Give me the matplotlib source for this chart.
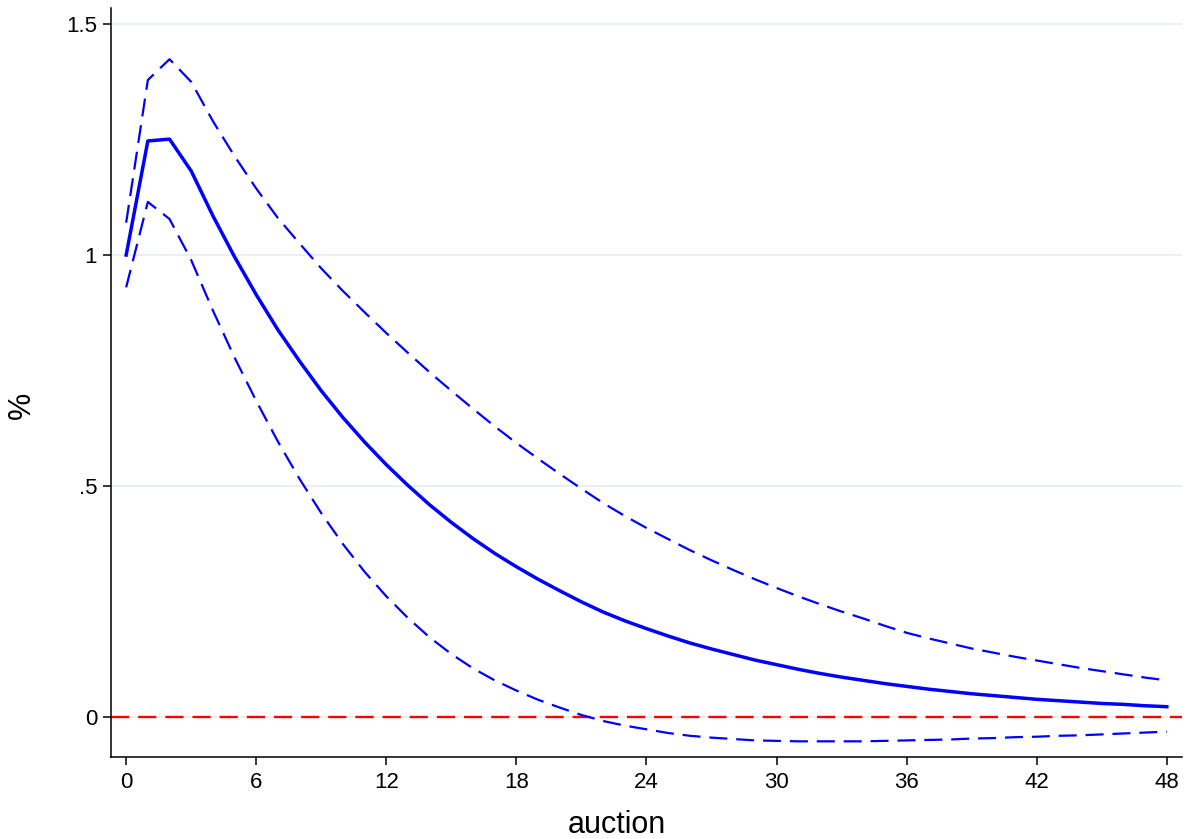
import numpy as np
import matplotlib
matplotlib.use("Agg")
import matplotlib.pyplot as plt

# impulse response (%)
steps = list(range(49))
irf = [1.000, 1.247, 1.251, 1.182, 1.085, 0.996, 0.914, 0.838, 0.770, 0.706,
       0.648, 0.595, 0.546, 0.501, 0.459, 0.421, 0.386, 0.354, 0.325, 0.298,
       0.273, 0.249, 0.227, 0.208, 0.191, 0.175, 0.160, 0.147, 0.135, 0.123,
       0.113, 0.103, 0.094, 0.086, 0.079, 0.072, 0.066, 0.060, 0.055, 0.050,
       0.046, 0.042, 0.038, 0.035, 0.032, 0.029, 0.027, 0.024, 0.022]
upper = [1.070, 1.379, 1.424, 1.375, 1.290, 1.214, 1.144, 1.080, 1.025, 0.971,
         0.922, 0.876, 0.831, 0.788, 0.746, 0.706, 0.667, 0.629, 0.593, 0.559,
         0.526, 0.494, 0.463, 0.435, 0.409, 0.385, 0.361, 0.339, 0.318, 0.298,
         0.279, 0.261, 0.244, 0.228, 0.213, 0.197, 0.182, 0.170, 0.159, 0.148,
         0.139, 0.130, 0.122, 0.114, 0.106, 0.099, 0.092, 0.085, 0.079]
lower = [0.930, 1.115, 1.078, 0.989, 0.880, 0.778, 0.684, 0.596, 0.515, 0.441,
         0.374, 0.314, 0.261, 0.214, 0.172, 0.136, 0.105, 0.079, 0.057, 0.037,
         0.020, 0.004, -0.009, -0.019, -0.027, -0.035, -0.041, -0.045, -0.048, -0.051,
         -0.052, -0.053, -0.053, -0.053, -0.053, -0.052, -0.051, -0.050, -0.049, -0.047,
         -0.046, -0.044, -0.043, -0.041, -0.040, -0.038, -0.036, -0.034, -0.032]

xticks = [0, 6, 12, 18, 24, 30, 36, 42, 48]
yticks = [0, 0.5, 1, 1.5]
ylabels = ["0", ".5", "1", "1.5"]

plt.rcParams['font.family'] = ['Liberation Sans', 'DejaVu Sans']

fig = plt.figure(figsize=(11.87, 8.39), dpi=100)
ax = fig.add_axes([0.0935, 0.0977, 0.9023, 0.8928])

for y in yticks:
    ax.axhline(y, color="#e8f0f2", lw=1.4, zorder=0)

ax.axhline(0, color="#ff0000", lw=1.7, dashes=(7.7, 3.8), zorder=1)
ax.plot(steps, upper, color="#0000ff", lw=1.6, dashes=(8.1, 4.0), zorder=2)
ax.plot(steps, lower, color="#0000ff", lw=1.6, dashes=(8.1, 4.0), zorder=2)
ax.plot(steps, irf, color="#0000ff", lw=2.5, zorder=3)

ax.set_xlim(-0.7, 48.7)
ax.set_ylim(-0.087, 1.535)
ax.set_xticks(xticks)
ax.set_yticks(yticks)
ax.set_yticklabels(ylabels)
ax.tick_params(axis='both', labelsize=16, length=6, width=1.1, direction='out')
ax.tick_params(axis='x', pad=5)
ax.tick_params(axis='y', pad=4)

ax.spines['top'].set_visible(False)
ax.spines['right'].set_visible(False)
ax.spines['left'].set_linewidth(1.1)
ax.spines['bottom'].set_linewidth(1.1)

ax.set_xlabel("auction", fontsize=22, va='baseline')
ax.xaxis.set_label_coords(0.4725, -0.1015)
ax.set_ylabel("%", fontsize=22, va='center')
ax.yaxis.set_label_coords(-0.083, 0.47)

fig.savefig("out.png", dpi=100, facecolor="white")
